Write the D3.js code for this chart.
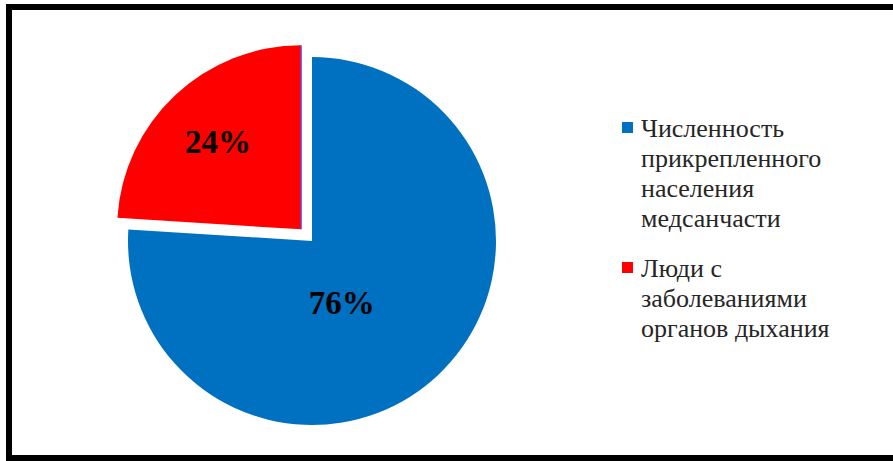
<!DOCTYPE html>
<html>
<head>
<meta charset="utf-8">
<script src="https://cdn.jsdelivr.net/npm/d3@7"></script>
<style>
  html, body { margin: 0; padding: 0; background: #fff; }
  svg { display: block; }
</style>
</head>
<body>
<svg id="chart" width="893" height="461"></svg>
<script>
// Share of the attached population vs. people with respiratory diseases
const categories = [
  "Численность прикрепленного населения медсанчасти",
  "Люди с заболеваниями органов дыхания"
];
const legendLines = [
  ["Численность", "прикрепленного", "населения", "медсанчасти"],
  ["Люди с", "заболеваниями", "органов дыхания"]
];
const values = [76, 24];
const valueLabels = ["76%", "24%"];
const colors = ["#0070C0", "#FF0000"];
const exploded = [false, true];

const serif = "'Liberation Serif', 'DejaVu Serif', 'Times New Roman', serif";

const svg = d3.select("#chart");
const W = 893, H = 461;

// outer frame
svg.append("rect")
  .attr("x", 9).attr("y", 7)
  .attr("width", W + 20).attr("height", 451)
  .attr("fill", "#fff")
  .attr("stroke", "#000")
  .attr("stroke-width", 6);

const cx = 312, cy = 241, r = 184, explodeDist = 16;

const pie = d3.pie().sort(null).value(d => d).startAngle(0).endAngle(2 * Math.PI);
const arcs = pie(values);
const arc = d3.arc().innerRadius(0).outerRadius(r);

const g = svg.append("g").attr("transform", `translate(${cx},${cy})`);

function offset(d, i) {
  if (!exploded[i]) return [0, 0];
  const a = (d.startAngle + d.endAngle) / 2;
  return [Math.sin(a) * explodeDist, -Math.cos(a) * explodeDist];
}

const slices = g.selectAll("g.slice").data(arcs).join("g")
  .attr("class", "slice")
  .attr("transform", (d, i) => {
    const [dx, dy] = offset(d, i);
    return `translate(${dx},${dy})`;
  });

slices.append("path")
  .attr("d", arc)
  .attr("fill", (d, i) => colors[i]);

// thin edge along the exploded slice's straight side
slices.filter((d, i) => exploded[i])
  .append("line")
  .attr("x1", 0).attr("y1", 0)
  .attr("x2", d => Math.sin(d.endAngle) * r)
  .attr("y2", d => -Math.cos(d.endAngle) * r)
  .attr("stroke", "#7B3FC8")
  .attr("stroke-width", 1.5);

// percentage labels
const labelFactor = [0.37, 0.66];
slices.append("text")
  .attr("transform", (d, i) => {
    const lr = r * labelFactor[i];
    const a = (d.startAngle + d.endAngle) / 2 + (i === 0 ? 0.3 : 0);
    return `translate(${Math.sin(a) * lr},${-Math.cos(a) * lr})`;
  })
  .attr("text-anchor", "middle")
  .attr("dy", "0.36em")
  .attr("font-family", serif)
  .attr("font-weight", "bold")
  .attr("font-size", 33)
  .attr("fill", "#000")
  .text((d, i) => valueLabels[i]);

// legend
const legend = svg.append("g").attr("transform", "translate(622,0)");
const legendTops = [122, 262];
const lineH = 30;
categories.forEach((c, i) => {
  const item = legend.append("g").attr("transform", `translate(0,${legendTops[i]})`);
  item.append("rect")
    .attr("x", 0).attr("y", 0)
    .attr("width", 11).attr("height", 11)
    .attr("fill", colors[i]);
  const t = item.append("text")
    .attr("x", 19).attr("y", 15)
    .attr("font-family", serif)
    .attr("font-size", 26)
    .attr("fill", "#262626");
  legendLines[i].forEach((ln, k) => {
    t.append("tspan").attr("x", 19).attr("y", 15 + k * lineH).text(ln);
  });
});
</script>
</body>
</html>
